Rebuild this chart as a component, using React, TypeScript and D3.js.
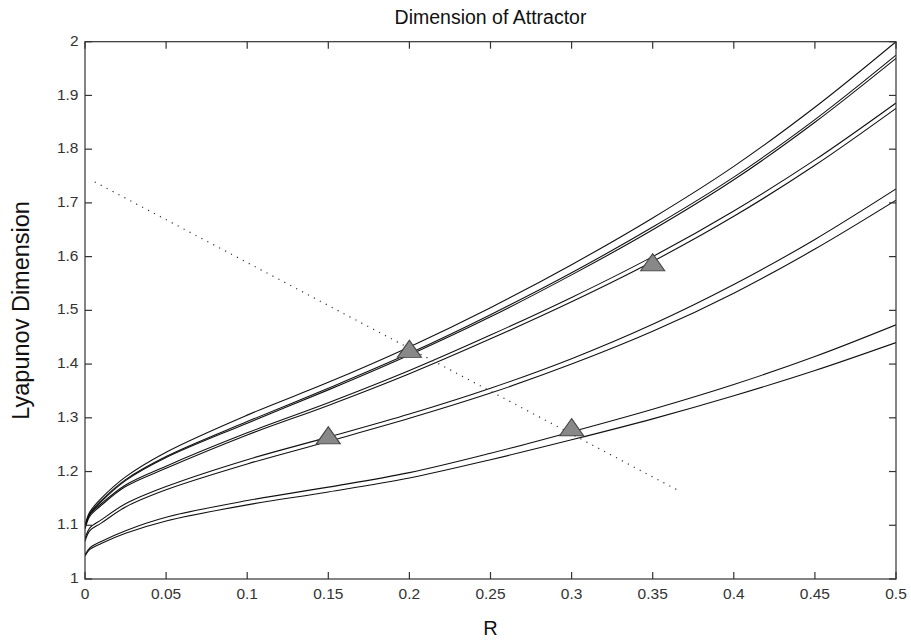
import React from "react";
import * as d3 from "d3";

const R = [0, 0.003, 0.01, 0.025, 0.05, 0.1, 0.15, 0.2, 0.25, 0.3, 0.35, 0.4, 0.45, 0.5];
const A1 = [1.100, 1.125, 1.150, 1.190, 1.236, 1.305, 1.366, 1.432, 1.505, 1.585, 1.672, 1.768, 1.878, 2.000];
const A2 = [1.098, 1.122, 1.146, 1.185, 1.228, 1.293, 1.355, 1.420, 1.492, 1.570, 1.655, 1.748, 1.855, 1.975];
const A3 = [1.097, 1.121, 1.144, 1.183, 1.226, 1.290, 1.352, 1.417, 1.488, 1.566, 1.650, 1.743, 1.850, 1.969];
const B1 = [1.095, 1.120, 1.140, 1.175, 1.210, 1.272, 1.328, 1.388, 1.454, 1.524, 1.600, 1.685, 1.780, 1.886];
const B2 = [1.093, 1.117, 1.137, 1.172, 1.206, 1.268, 1.323, 1.382, 1.447, 1.516, 1.591, 1.675, 1.770, 1.876];
const C1 = [1.075, 1.095, 1.110, 1.140, 1.172, 1.222, 1.264, 1.307, 1.355, 1.410, 1.474, 1.548, 1.632, 1.726];
const C2 = [1.070, 1.090, 1.104, 1.134, 1.166, 1.214, 1.256, 1.299, 1.346, 1.400, 1.461, 1.532, 1.614, 1.705];
const D1 = [1.045, 1.058, 1.070, 1.090, 1.115, 1.146, 1.171, 1.198, 1.234, 1.274, 1.316, 1.362, 1.414, 1.473];
const D2 = [1.043, 1.055, 1.066, 1.085, 1.108, 1.138, 1.162, 1.188, 1.222, 1.259, 1.298, 1.341, 1.388, 1.440];
const SERIES = [A1, A2, A3, B1, B2, C1, C2, D1, D2];

const MARKER_R = [0.15, 0.2, 0.3, 0.35];
const MARKER_D = [1.264, 1.425, 1.279, 1.586];

const DOTTED_R = [0.006, 0.365];
const DOTTED_D = [1.739, 1.166];

const X_TICKS = [0, 0.05, 0.1, 0.15, 0.2, 0.25, 0.3, 0.35, 0.4, 0.45, 0.5];
const X_LABELS = ["0", "0.05", "0.1", "0.15", "0.2", "0.25", "0.3", "0.35", "0.4", "0.45", "0.5"];
const Y_TICKS = [1, 1.1, 1.2, 1.3, 1.4, 1.5, 1.6, 1.7, 1.8, 1.9, 2];
const Y_LABELS = ["1", "1.1", "1.2", "1.3", "1.4", "1.5", "1.6", "1.7", "1.8", "1.9", "2"];

const W = 911, H = 643;
const L = 85, Rt = 896, T = 41.7, B = 579;

export default function App() {
  const x = d3.scaleLinear().domain([0, 0.5]).range([L, Rt]);
  const y = d3.scaleLinear().domain([1, 2]).range([B, T]);
  const line = d3
    .line<number>()
    .x((_, i) => x(R[i]))
    .y((d) => y(d))
    .curve(d3.curveCatmullRom.alpha(0.5));
  const font = "'Liberation Sans', Arial, sans-serif";
  const tri = d3.symbol().type(d3.symbolTriangle).size(190)();
  const tick = 7;
  return (
    <svg width={W} height={H} style={{ position: "absolute", left: 0, top: 0, background: "#fff" }}>
      <rect x={0} y={0} width={W} height={H} fill="#fff" />
      <defs>
        <clipPath id="plot">
          <rect x={L} y={T} width={Rt - L} height={B - T} />
        </clipPath>
      </defs>
      <g clipPath="url(#plot)">
        {SERIES.map((s, i) => (
          <path key={i} d={line(s) || ""} fill="none" stroke="#111" strokeWidth={1.1} />
        ))}
        <line
          x1={x(DOTTED_R[0])}
          y1={y(DOTTED_D[0])}
          x2={x(DOTTED_R[1])}
          y2={y(DOTTED_D[1])}
          stroke="#333"
          strokeWidth={1.2}
          strokeDasharray="1.2 5.5"
        />
        {MARKER_R.map((r, i) => (
          <path
            key={i}
            d={tri || ""}
            transform={`translate(${x(r)},${y(MARKER_D[i]) + 1}) scale(1.15,0.95)`}
            fill="#888"
            stroke="#444"
            strokeWidth={1}
          />
        ))}
      </g>
      <rect x={L} y={T} width={Rt - L} height={B - T} fill="none" stroke="#333" strokeWidth={1.2} />
      {X_TICKS.map((t, i) => (
        <g key={"xt" + i}>
          <line x1={x(t)} x2={x(t)} y1={B} y2={B - tick} stroke="#333" strokeWidth={1.2} />
          <line x1={x(t)} x2={x(t)} y1={T} y2={T + tick} stroke="#333" strokeWidth={1.2} />
          <text x={x(t)} y={595} fontFamily={font} fontSize={15.5} fill="#333" textAnchor="middle" dominantBaseline="middle">
            {X_LABELS[i]}
          </text>
        </g>
      ))}
      {Y_TICKS.map((t, i) => (
        <g key={"yt" + i}>
          <line x1={L} x2={L + tick} y1={y(t)} y2={y(t)} stroke="#333" strokeWidth={1.2} />
          <line x1={Rt} x2={Rt - tick} y1={y(t)} y2={y(t)} stroke="#333" strokeWidth={1.2} />
          <text x={78.5} y={y(t)} fontFamily={font} fontSize={15.5} fill="#333" textAnchor="end" dominantBaseline="middle">
            {Y_LABELS[i]}
          </text>
        </g>
      ))}
      <text x={(L + Rt) / 2} y={19} fontFamily={font} fontSize={19.5} fill="#111" textAnchor="middle" dominantBaseline="middle">
        Dimension of Attractor
      </text>
      <text x={(L + Rt) / 2} y={630} fontFamily={font} fontSize={20} fill="#111" textAnchor="middle" dominantBaseline="middle">
        R
      </text>
      <text
        transform={`translate(23,${(T + B) / 2}) rotate(-90)`}
        fontFamily={font}
        fontSize={23.5}
        fill="#111"
        textAnchor="middle"
        dominantBaseline="middle"
      >
        Lyapunov Dimension
      </text>
    </svg>
  );
}
